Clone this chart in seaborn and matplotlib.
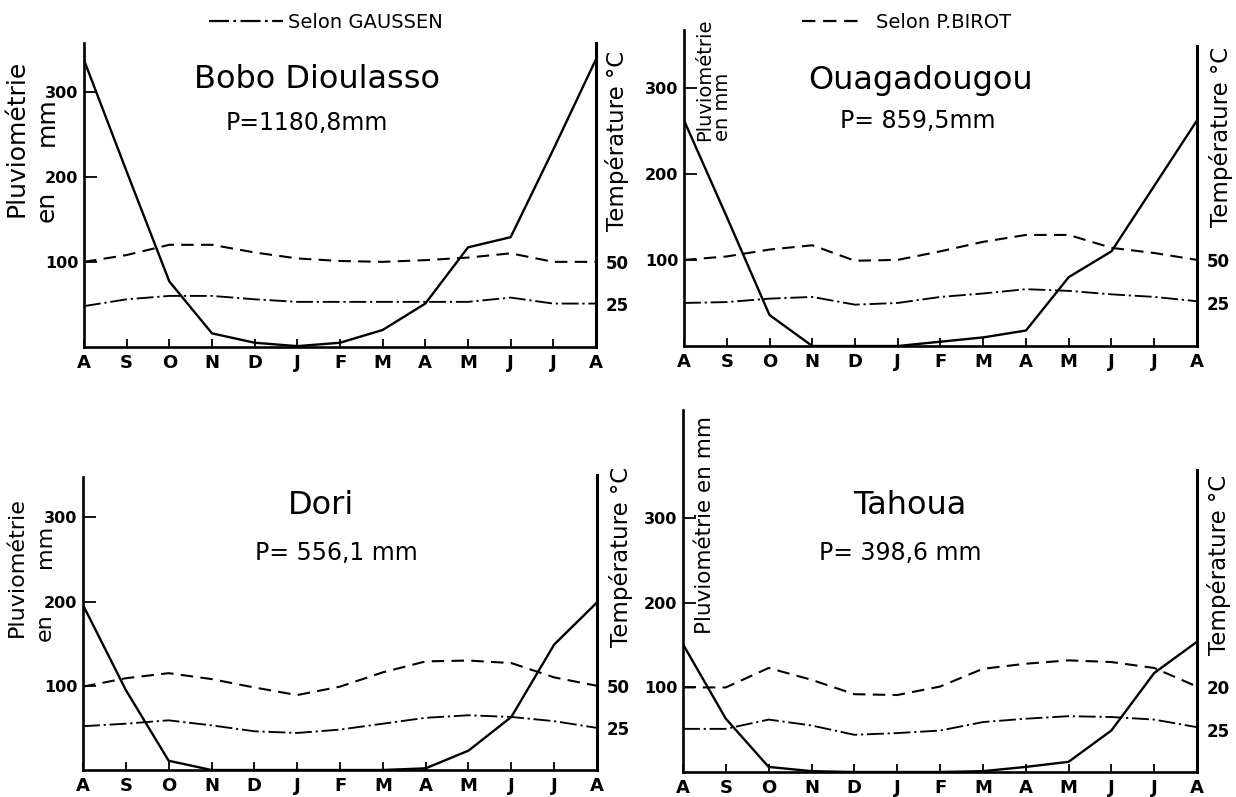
import numpy as np
import pandas as pd
import matplotlib
matplotlib.use('Agg')
import matplotlib.pyplot as plt
from matplotlib.lines import Line2D
import seaborn as sns

# ---------------- data ----------------
months = ['A', 'S', 'O', 'N', 'D', 'J', 'F', 'M', 'A', 'M', 'J', 'J', 'A']

bobo_rain = [337, 206, 77, 16, 5, 1, 5, 20, 51, 117, 129, 232, 338]
bobo_gaussen = [48, 56, 60, 60, 56, 53, 53, 53, 53, 53, 58, 51, 51]
bobo_birot = [100, 108, 120, 120, 111, 104, 101, 100, 102, 105, 110, 100, 100]

ouaga_rain = [262, 150, 36, 0, 0, 0, 5, 10, 18, 80, 110, 186, 262]
ouaga_gaussen = [50, 51, 55, 57, 48, 50, 57, 61, 66, 64, 60, 57, 52]
ouaga_birot = [100, 104, 112, 117, 99, 100, 110, 121, 129, 129, 114, 108, 100]

dori_rain = [196, 95, 11, 0, 0, 0, 0, 0, 2, 23, 63, 149, 199]
dori_gaussen = [52, 55, 59, 53, 46, 44, 48, 55, 62, 65, 63, 58, 50]
dori_birot = [99, 109, 115, 108, 98, 89, 99, 116, 129, 130, 127, 110, 100]

tahoua_rain = [151, 63, 6, 1, 0, 0, 0, 1, 6, 12, 49, 117, 154]
tahoua_gaussen = [51, 51, 62, 55, 44, 46, 49, 59, 63, 66, 65, 62, 53]
tahoua_birot = [100, 100, 123, 109, 92, 91, 101, 122, 128, 132, 130, 123, 101]

left_ticks = [100, 200, 300]
right_ticks = [100, 50]

stations = ['Bobo Dioulasso', 'Ouagadougou', 'Dori', 'Tahoua']
totals = ['P=1180,8mm', 'P= 859,5mm', 'P= 556,1 mm', 'P= 398,6 mm']
right_labels = [['50', '25'], ['50', '25'], ['50', '25'], ['20', '25']]
legend_labels = ['Selon GAUSSEN', 'Selon P.BIROT']

# ---------------- style ----------------
sns.set_theme(style='ticks')
plt.rcParams['font.family'] = ['DejaVu Sans']
plt.rcParams['axes.edgecolor'] = 'black'
plt.rcParams['xtick.color'] = 'black'
plt.rcParams['ytick.color'] = 'black'
plt.rcParams['text.color'] = 'black'

W, H = 1236, 797
fig = plt.figure(figsize=(W / 100, H / 100), dpi=100, facecolor='white')

GAUSS_DASH = (9, 2, 1.2, 2)
BIROT_DASH = (6, 3.5)


def rect(l, r, b, t):
    return [l / W, 1 - b / H, (r - l) / W, (b - t) / H]


def fx(x):
    return x / W


def fy(y):
    return 1 - y / H


def draw_panel(rc, ymax, rbound, rain, gaussen, birot, rlabels):
    ax = fig.add_axes(rc)
    n = len(months)
    df = pd.DataFrame({
        'pos': np.tile(np.arange(n), 3),
        'value': list(rain) + list(gaussen) + list(birot),
        'series': ['P'] * n + ['G'] * n + ['B'] * n,
    })
    sns.lineplot(data=df, x='pos', y='value', style='series',
                 dashes={'P': '', 'G': GAUSS_DASH, 'B': BIROT_DASH},
                 color='black', legend=False, ax=ax,
                 estimator=None, errorbar=None)
    for line, lw in zip(ax.lines, [1.7, 1.35, 1.5]):
        line.set_linewidth(lw)
        line.set_solid_joinstyle('miter')
    ax.set_xlim(0, n - 1)
    ax.set_ylim(0, ymax)
    ax.set_xlabel('')
    ax.set_ylabel('')
    ax.set_xticks(range(n))
    ax.set_xticklabels(months)
    ax.set_yticks(left_ticks)
    ax.set_yticklabels([str(v) for v in left_ticks])
    ax.spines['top'].set_visible(False)
    ax.spines['right'].set_visible(False)
    ax.spines['left'].set_linewidth(1.9)
    ax.spines['bottom'].set_linewidth(1.9)
    ax.tick_params(axis='x', direction='in', length=6, width=1.3, pad=5,
                   labelsize=13)
    ax.tick_params(axis='y', direction='in', length=9, width=1.3, pad=4,
                   labelsize=11.5)
    for lbl in ax.get_xticklabels() + ax.get_yticklabels():
        lbl.set_fontweight('bold')
    ax.set_facecolor('white')

    ax2 = ax.twinx()
    ax2.set_ylim(0, ymax)
    ax2.set_yticks(right_ticks)
    ax2.set_yticklabels(rlabels)
    for s in ['top', 'left', 'bottom']:
        ax2.spines[s].set_visible(False)
    ax2.spines['right'].set_linewidth(2.2)
    ax2.spines['right'].set_bounds(0, rbound)
    ax2.tick_params(axis='y', length=0, pad=7, labelsize=12)
    for lbl in ax2.get_yticklabels():
        lbl.set_fontweight('bold')
    ax2.grid(False)
    ax.grid(False)
    return ax


# Bobo Dioulasso
draw_panel(rect(84, 596, 347, 43), 357, 357,
           bobo_rain, bobo_gaussen, bobo_birot, right_labels[0])
# Ouagadougou
draw_panel(rect(684, 1197, 346, 30), 367, 348,
           ouaga_rain, ouaga_gaussen, ouaga_birot, right_labels[1])
# Dori
draw_panel(rect(83, 597, 770, 477), 348, 350,
           dori_rain, dori_gaussen, dori_birot, right_labels[2])
# Tahoua
draw_panel(rect(683, 1197, 772, 410), 428, 357,
           tahoua_rain, tahoua_gaussen, tahoua_birot, right_labels[3])

# ---------------- titles ----------------
title_pos = [(317, 80), (921, 80), (321, 506), (910, 506)]
total_pos = [(307, 123), (918, 121), (336, 553), (900, 553)]
for name, (x, y) in zip(stations, title_pos):
    fig.text(fx(x), fy(y), name, ha='center', va='center', fontsize=23)
for tot, (x, y) in zip(totals, total_pos):
    fig.text(fx(x), fy(y), tot, ha='center', va='center', fontsize=17)

# ---------------- axis labels ----------------
# Bobo Dioulasso: "en" and "mm" sit in the gaps between the tick labels
fig.text(fx(4), fy(138), 'Pluviométrie', rotation=90, ha='left',
         va='center', fontsize=18)
fig.text(fx(35), fy(206), 'en', rotation=90, ha='left', va='center',
         fontsize=18)
fig.text(fx(35), fy(122), 'mm', rotation=90, ha='left', va='center',
         fontsize=18)
# Ouagadougou
fig.text(fx(695), fy(141), 'Pluviométrie\nen mm', rotation=90, ha='left',
         va='bottom', multialignment='left', fontsize=14, linespacing=0.9)
# Dori
fig.text(fx(7), fy(567), 'Pluviométrie', rotation=90, ha='left',
         va='center', fontsize=16)
fig.text(fx(35), fy(627), 'en', rotation=90, ha='left', va='center',
         fontsize=16)
fig.text(fx(35), fy(546), 'mm', rotation=90, ha='left', va='center',
         fontsize=16)
# Tahoua
fig.text(fx(695), fy(634), 'Pluviométrie en mm', rotation=90, ha='left',
         va='bottom', fontsize=15.5)

for (x, y) in [(605, 141), (1209, 137), (609, 557), (1207, 565)]:
    fig.text(fx(x), fy(y), 'Température °C', rotation=90, ha='left',
             va='center', fontsize=16.5)

# ---------------- legend keys ----------------
h_g = Line2D([], [], color='black', lw=1.6, dashes=GAUSS_DASH)
h_b = Line2D([], [], color='black', lw=1.6, dashes=BIROT_DASH)
fig.legend(handles=[h_g], labels=[legend_labels[0]], loc='center left',
           bbox_to_anchor=(fx(209), fy(22)), frameon=False, borderpad=0,
           borderaxespad=0, handlelength=3.8, handletextpad=0.25, fontsize=14)
fig.legend(handles=[h_b], labels=[legend_labels[1]], loc='center left',
           bbox_to_anchor=(fx(802), fy(22)), frameon=False, borderpad=0,
           borderaxespad=0, handlelength=3.2, handletextpad=0.6, fontsize=14)

fig.savefig('out.png', dpi=100, facecolor='white')
